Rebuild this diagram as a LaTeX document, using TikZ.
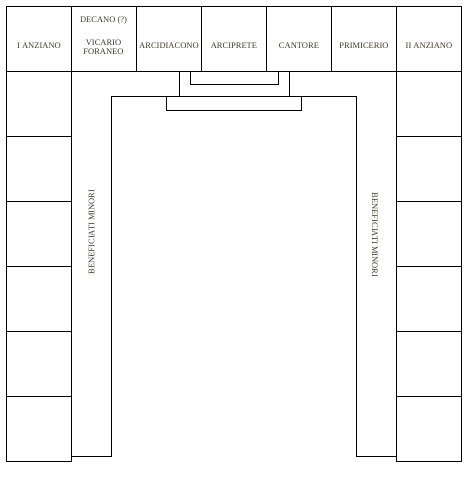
\documentclass[tikz,border=0pt]{standalone}
\usepackage{fontspec}
\setmainfont{Liberation Serif}
\definecolor{txt}{RGB}{62,58,40}
\begin{document}
\begin{tikzpicture}[x=1pt,y=-1pt,line width=0.9pt,
  cell/.style={draw,minimum width=65pt,minimum height=65pt,inner sep=0pt,anchor=north west},
  lbl/.style={font=\fontsize{8.5}{9.5}\selectfont,text=txt,align=center,inner sep=0pt}]
\useasboundingbox (0,0) rectangle (473,477);
% top row
\foreach \i/\t in {1/I ANZIANO,2/,3/ARCIDIACONO,4/ARCIPRETE,5/CANTORE,6/PRIMICERIO,7/II ANZIANO}{
  \node[cell] (c\i) at ({6+65*(\i-1)},6) {};
  \node[lbl] (t\i) at ([yshift=-6.5pt]c\i.center) {\t};
}
\node[lbl] (dec) at (103.5,20) {DECANO (?)};
\node[lbl] (vic) at (103.5,47) {VICARIO\\FORANEO};
% side cells
\foreach \i in {1,...,6}{
  \node[cell] (l\i) at (6,{6+65*\i}) {};
  \node[cell] (r\i) at (396,{6+65*\i}) {};
}
% benches
\draw (71,456) -- (111,456) -- (111,96) -- (356,96) -- (356,456) -- (396,456);
\draw (179,71) -- (179,96);
\draw (289,71) -- (289,96);
\draw (166,96) rectangle (301,110);
\draw (190,71) -- (190,84) -- (278,84) -- (278,71);
\node[lbl,rotate=90] (bl) at (91.5,232) {BENEFICIATI MINORI};
\node[lbl,rotate=-90] (br) at (375,235) {BENEFICIATI MINORI};
\end{tikzpicture}
\end{document}
